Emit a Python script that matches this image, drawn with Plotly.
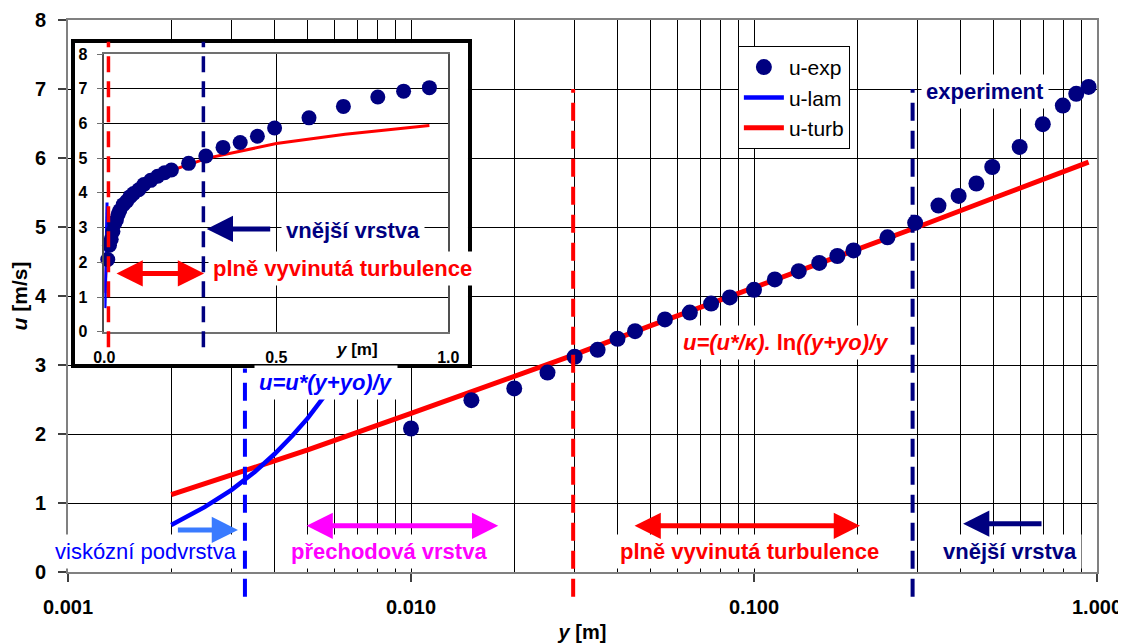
import math
import plotly.graph_objects as go

FONT = "Liberation Sans, Arial, sans-serif"
NAVY = "#000080"
RED = "#FF0000"
BLUE = "#0000FF"
MAGENTA = "#FF00FF"
LBLUE = "#3A7BFF"

# ---------------- data ----------------
y_exp = [0.010, 0.015, 0.020, 0.025, 0.030, 0.035, 0.040, 0.045, 0.055, 0.065,
         0.075, 0.085, 0.100, 0.115, 0.135, 0.155, 0.175, 0.195, 0.245, 0.295,
         0.345, 0.395, 0.445, 0.495, 0.595, 0.695, 0.795, 0.870, 0.945]
u_exp = [2.08, 2.49, 2.66, 2.89, 3.12, 3.22, 3.38, 3.49, 3.66, 3.76,
         3.89, 3.98, 4.09, 4.24, 4.36, 4.48, 4.58, 4.66, 4.85, 5.06,
         5.31, 5.45, 5.63, 5.87, 6.16, 6.49, 6.76, 6.93, 7.03]

y_lam = [0.002, 0.0025, 0.003, 0.0035, 0.004, 0.0045, 0.005, 0.0055, 0.006, 0.007, 0.0079]
u_lam = [0.68, 0.94, 1.19, 1.45, 1.71, 1.97, 2.23, 2.49, 2.75, 3.27, 3.72]

y_turb = [0.002, 0.003, 0.005, 0.01, 0.02, 0.03, 0.05, 0.1, 0.2, 0.3, 0.5, 0.7, 0.945]
u_turb = [1.12, 1.40, 1.77, 2.30, 2.84, 3.15, 3.57, 4.12, 4.66, 5.00, 5.42, 5.69, 5.94]

x_tickvals = [0.001, 0.01, 0.1, 1.0]
x_ticktext = ["0.001", "0.010", "0.100", "1.000"]
x_minor = [k * 10.0 ** e for e in (-3, -2, -1) for k in range(2, 10)]
y_tickvals = [0, 1, 2, 3, 4, 5, 6, 7, 8]
inset_x_tickvals = [0.0, 0.5, 1.0]
inset_x_ticktext = ["0.0", "0.5", "1.0"]

# zone boundaries (y in m) and their vertical extent (u in m/s)
bound_main_y = [0.00328, 0.0297, 0.29]
bound_main_top = [2.95, 7.0, 7.0]
bound_main_bottom = -0.36
bound_main_color = [BLUE, RED, NAVY]
bound_inset_y = [0.012, 0.288]
bound_inset_top = 8.35
bound_inset_bottom = -0.45
bound_inset_color = [RED, NAVY]

# ---------------- layout geometry ----------------
Y_MAX = 8.0
BG_DOM_X = [0.0068, 0.3887]
BG_DOM_Y = [0.3768, 0.9583]
IN_DOM_X = [0.0353, 0.3696]
IN_DOM_Y = [0.4353, 0.9384]


def main_paper_y(u):
    return u / Y_MAX


def inset_paper_y(u):
    return IN_DOM_Y[0] + (u / Y_MAX) * (IN_DOM_Y[1] - IN_DOM_Y[0])


lg = math.log10

fig = go.Figure()

# main plot traces
fig.add_trace(go.Scatter(x=y_turb, y=u_turb, mode="lines", name="u-turb",
                         line=dict(color=RED, width=5), legendrank=3,
                         xaxis="x", yaxis="y"))
fig.add_trace(go.Scatter(x=y_lam, y=u_lam, mode="lines", name="u-lam",
                         line=dict(color=BLUE, width=4.5), legendrank=2,
                         xaxis="x", yaxis="y"))
fig.add_trace(go.Scatter(x=y_exp, y=u_exp, mode="markers", name="u-exp",
                         marker=dict(color=NAVY, size=16), legendrank=1,
                         xaxis="x", yaxis="y"))

# background (white box) subplot for the inset
fig.add_trace(go.Scatter(x=[None], y=[None], xaxis="x2", yaxis="y2",
                         showlegend=False, hoverinfo="skip"))

# inset traces
fig.add_trace(go.Scatter(x=y_turb, y=u_turb, mode="lines", showlegend=False,
                         line=dict(color=RED, width=3), xaxis="x3", yaxis="y3"))
fig.add_trace(go.Scatter(x=y_lam, y=u_lam, mode="lines", showlegend=False,
                         line=dict(color=BLUE, width=3), xaxis="x3", yaxis="y3"))
fig.add_trace(go.Scatter(x=y_exp, y=u_exp, mode="markers", showlegend=False,
                         marker=dict(color=NAVY, size=15), cliponaxis=False,
                         xaxis="x3", yaxis="y3"))

tick_font = dict(family=FONT, size=20, color="black", weight="bold")
inset_tick_font = dict(family=FONT, size=16, color="black", weight="bold")

fig.update_layout(
    width=1126, height=644,
    margin=dict(l=60, r=37, t=12, b=80, autoexpand=False),
    paper_bgcolor="white", plot_bgcolor="white",
    font=dict(family=FONT, size=20, color="black"),
    showlegend=True,
    legend=dict(x=0.651, y=0.953, xanchor="left", yanchor="top",
                bgcolor="white", bordercolor="black", borderwidth=1,
                itemwidth=40, tracegroupgap=0,
                font=dict(family=FONT, size=21, color="black")),
    xaxis=dict(type="log", range=[-3, 0], domain=[0, 1], anchor="y",
               automargin=False,
               tickvals=x_tickvals, ticktext=x_ticktext,
               ticks="outside", ticklen=8, tickwidth=1.5, tickcolor="#404040",
               ticklabelstandoff=8,
               showline=True, linecolor="#808080", linewidth=2, mirror=True,
               showgrid=True, gridcolor="black", gridwidth=1,
               minor=dict(tickvals=x_minor, showgrid=True, gridcolor="black",
                          gridwidth=1, ticks=""),
               zeroline=False, tickfont=tick_font,
               title=dict(text="<i>y</i> [m]", standoff=8,
                          font=dict(family=FONT, size=20, color="black", weight="bold"))),
    yaxis=dict(range=[0, Y_MAX], domain=[0, 1], anchor="x",
               automargin=False,
               tickvals=y_tickvals, ticks="outside", ticklen=8, tickwidth=1.5,
               tickcolor="#404040", ticklabelstandoff=8,
               showline=True, linecolor="#808080", linewidth=2, mirror=True,
               showgrid=True, gridcolor="black", gridwidth=1,
               zeroline=False, tickfont=tick_font,
               title=dict(text="<i>u</i> [m/s]", standoff=6,
                          font=dict(family=FONT, size=21, color="black", weight="bold"))),
    xaxis2=dict(domain=BG_DOM_X, anchor="y2", range=[0, 1], automargin=False,
                showline=True, linewidth=4, linecolor="black", mirror=True,
                showgrid=False, showticklabels=False, ticks="", zeroline=False),
    yaxis2=dict(domain=BG_DOM_Y, anchor="x2", range=[0, 1], automargin=False,
                showline=True, linewidth=4, linecolor="black", mirror=True,
                showgrid=False, showticklabels=False, ticks="", zeroline=False),
    xaxis3=dict(domain=IN_DOM_X, anchor="y3", range=[0, 1], automargin=False,
                tickvals=inset_x_tickvals, ticktext=inset_x_ticktext,
                ticks="outside", ticklen=2, tickcolor="rgba(0,0,0,0)",
                ticklabelstandoff=8,
                showline=True, linecolor="#707070", linewidth=1.5, mirror=True,
                showgrid=True, gridcolor="black", gridwidth=1,
                zeroline=False, tickfont=inset_tick_font),
    yaxis3=dict(domain=IN_DOM_Y, anchor="x3", range=[0, Y_MAX], automargin=False,
                tickvals=y_tickvals, ticks="outside", ticklen=6, tickcolor="#707070",
                ticklabelstandoff=6,
                showline=True, linecolor="#505050", linewidth=1.5, mirror=True,
                showgrid=True, gridcolor="black", gridwidth=1,
                zeroline=False, tickfont=inset_tick_font),
)

# ---------------- zone boundary dashed lines ----------------
shapes = []
for xv, top, col in zip(bound_main_y, bound_main_top, bound_main_color):
    shapes.append(dict(type="line", xref="x", yref="paper", x0=xv, x1=xv,
                       y0=main_paper_y(bound_main_bottom), y1=main_paper_y(top),
                       line=dict(color=col, width=4, dash="18px,10px"), layer="above"))
for xv, col in zip(bound_inset_y, bound_inset_color):
    shapes.append(dict(type="line", xref="x3", yref="paper", x0=xv, x1=xv,
                       y0=inset_paper_y(bound_inset_bottom), y1=inset_paper_y(bound_inset_top),
                       line=dict(color=col, width=3.5, dash="16px,9px"), layer="above"))
fig.update_layout(shapes=shapes)

# ---------------- annotations ----------------
def txt(text, x, y, color, bold=True, xref="x", yref="y", size=22, bg="white", pad=4):
    d = dict(text=text, x=x, y=y, xref=xref, yref=yref, showarrow=False,
             font=dict(family=FONT, size=size, color=color,
                       weight="bold" if bold else "normal"),
             borderpad=pad, xanchor="center", yanchor="middle")
    if bg:
        d["bgcolor"] = bg
    return d


def arrow(x_tip, x_tail, y, color, width, both=False, xref="x", yref="y", size=1.05):
    return dict(text="", x=x_tip, y=y, ax=x_tail, ay=y, xref=xref, yref=yref,
                axref=xref, ayref=yref, showarrow=True, arrowhead=2,
                arrowside="end+start" if both else "end",
                startarrowhead=2, arrowsize=size, startarrowsize=size,
                arrowwidth=width, arrowcolor=color, standoff=0, startstandoff=0)


annotations = [
    # main plot zone labels
    txt("viskózní podvrstva", lg(0.00169), 0.29, BLUE, bold=False),
    txt("přechodová vrstva", lg(0.0086), 0.29, MAGENTA),
    txt("plně vyvinutá turbulence", lg(0.0973), 0.29, RED),
    txt("vnější vrstva", lg(0.556), 0.29, NAVY),
    txt("experiment", lg(0.472), 6.96, NAVY),
    txt("<i>u=(u*/κ). </i>ln<i>((y+yo)/y</i>", lg(0.124), 3.32, RED),
    txt("<i>u=u*(y+yo)/y</i>", lg(0.00565), 2.75, BLUE),
    # main plot arrows
    arrow(lg(0.00313), lg(0.00207), 0.61, LBLUE, 5),
    arrow(lg(0.01796), lg(0.00491), 0.67, MAGENTA, 5, both=True),
    arrow(lg(0.2037), lg(0.0444), 0.67, RED, 5, both=True),
    arrow(lg(0.407), lg(0.696), 0.70, NAVY, 5),
    # inset labels
    txt("vnější vrstva", 0.724, 2.93, NAVY, xref="x3", yref="y3"),
    txt("plně vyvinutá turbulence", 0.6925, 1.81, RED, xref="x3", yref="y3"),
    txt("<i>y</i> [m]", 0.735, inset_paper_y(-0.5), "black", xref="x3", yref="paper",
        size=17, bg=None, pad=0),
    arrow(0.2977, 0.4866, 2.96, NAVY, 5, xref="x3", yref="y3"),
    arrow(0.29, 0.031, 1.68, RED, 5, both=True, xref="x3", yref="y3"),
]
fig.update_layout(annotations=annotations)

fig.write_html("out.html")
